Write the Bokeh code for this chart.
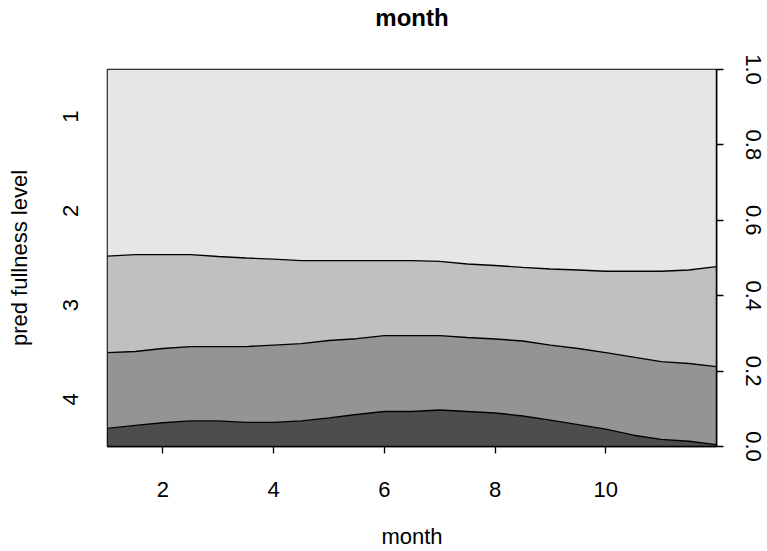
from bokeh.plotting import figure
from bokeh.models import Range1d, LinearAxis, FixedTicker, PrintfTickFormatter
from bokeh.embed import file_html
from bokeh.resources import INLINE

# Conditional density of fullness level given month (cumulative boundaries)
month = [1, 1.5, 2, 2.5, 3, 3.5, 4, 4.5, 5, 5.5, 6, 6.5,
         7, 7.5, 8, 8.5, 9, 9.5, 10, 10.5, 11, 11.5, 12]
# P(level 4)
cum_level4 = [0.048, 0.056, 0.063, 0.068, 0.068, 0.064, 0.064, 0.068, 0.076,
              0.085, 0.093, 0.093, 0.097, 0.093, 0.089, 0.081, 0.070, 0.058,
              0.046, 0.030, 0.019, 0.014, 0.005]
# P(level 4 or 3)
cum_level3 = [0.249, 0.252, 0.260, 0.265, 0.265, 0.265, 0.269, 0.273, 0.281,
              0.286, 0.294, 0.294, 0.294, 0.289, 0.285, 0.280, 0.269, 0.260,
              0.249, 0.237, 0.225, 0.220, 0.212]
# P(level 4, 3 or 2)
cum_level2 = [0.505, 0.509, 0.509, 0.509, 0.504, 0.500, 0.497, 0.493, 0.493,
              0.493, 0.493, 0.493, 0.491, 0.484, 0.480, 0.475, 0.471, 0.468,
              0.465, 0.465, 0.465, 0.468, 0.477]

level_labels = ["4", "3", "2", "1"]          # bottom to top
level_colors = ["#4D4D4D", "#949494", "#C0C0C0", "#E6E6E6"]
level_label_pos = [0.125, 0.375, 0.625, 0.875]
month_ticks = [2, 4, 6, 8, 10]
prob_ticks = [0.0, 0.2, 0.4, 0.6, 0.8, 1.0]
title_text = "month"

FONT = "Liberation Sans"
FS = "22px"

p = figure(width=767, height=551, title=None,
           x_range=Range1d(1, 12), y_range=Range1d(0, 1),
           output_backend="svg", toolbar_location=None,
           min_border_left=107, min_border_right=51,
           min_border_top=69, min_border_bottom=104,
           background_fill_color="white", border_fill_color="white")

p.grid.visible = False
p.outline_line_color = "black"
p.outline_line_width = 1.5

# stacked bands
zeros = [0.0] * len(month)
ones = [1.0] * len(month)
bounds = [zeros, cum_level4, cum_level3, cum_level2, ones]
for i, col in enumerate(level_colors):
    p.varea(x=month, y1=bounds[i], y2=bounds[i + 1], fill_color=col)
for b in (cum_level4, cum_level3, cum_level2):
    p.line(month, b, line_color="black", line_width=1.4)

# bottom axis
xa = p.below[0]
xa.ticker = FixedTicker(ticks=month_ticks)
xa.axis_label = "month"
xa.major_tick_out = 7
xa.major_tick_in = 0
xa.major_tick_line_width = 1.3
xa.minor_tick_line_color = None
xa.axis_line_color = "black"
xa.axis_line_width = 1.5
xa.major_label_text_font = FONT
xa.major_label_text_font_size = FS
xa.major_label_text_color = "black"
xa.major_label_standoff = 28
xa.axis_label_text_font = FONT
xa.axis_label_text_font_size = FS
xa.axis_label_text_font_style = "normal"
xa.axis_label_text_color = "black"
xa.axis_label_standoff = 24

# left axis: category labels, no ticks
ya = p.left[0]
ya.ticker = FixedTicker(ticks=level_label_pos)
ya.major_label_overrides = {pos: lab for pos, lab in zip(level_label_pos, level_labels)}
ya.major_label_orientation = "vertical"
ya.axis_label = "pred fullness level"
ya.axis_line_color = None
ya.major_tick_line_color = None
ya.minor_tick_line_color = None
ya.major_tick_out = 0
ya.major_tick_in = 0
ya.major_label_text_font = FONT
ya.major_label_text_font_size = FS
ya.major_label_text_color = "black"
ya.major_label_standoff = 30
ya.axis_label_text_font = FONT
ya.axis_label_text_font_size = FS
ya.axis_label_text_font_style = "normal"
ya.axis_label_text_color = "black"
ya.axis_label_standoff = 28

# right axis: probability
ra = LinearAxis(ticker=FixedTicker(ticks=prob_ticks),
                formatter=PrintfTickFormatter(format="%.1f"))
ra.major_label_orientation = "vertical"
ra.major_tick_out = 7
ra.major_tick_in = 0
ra.major_tick_line_width = 1.3
ra.minor_tick_line_color = None
ra.axis_line_color = "black"
ra.axis_line_width = 1.5
ra.major_label_text_font = FONT
ra.major_label_text_font_size = FS
ra.major_label_text_color = "black"
ra.major_label_standoff = 22
p.add_layout(ra, "right")

# main title: label of a bare axis above the frame
top = LinearAxis(ticker=FixedTicker(ticks=[]))
top.axis_line_color = None
top.major_tick_line_color = None
top.minor_tick_line_color = None
top.major_tick_out = 0
top.major_tick_in = 0
top.major_label_standoff = 0
top.axis_label = title_text
top.axis_label_text_font = FONT
top.axis_label_text_font_size = "24px"
top.axis_label_text_font_style = "bold"
top.axis_label_text_color = "black"
top.axis_label_standoff = 39
p.add_layout(top, "above")

open("out.html", "w").write(file_html(p, INLINE))
